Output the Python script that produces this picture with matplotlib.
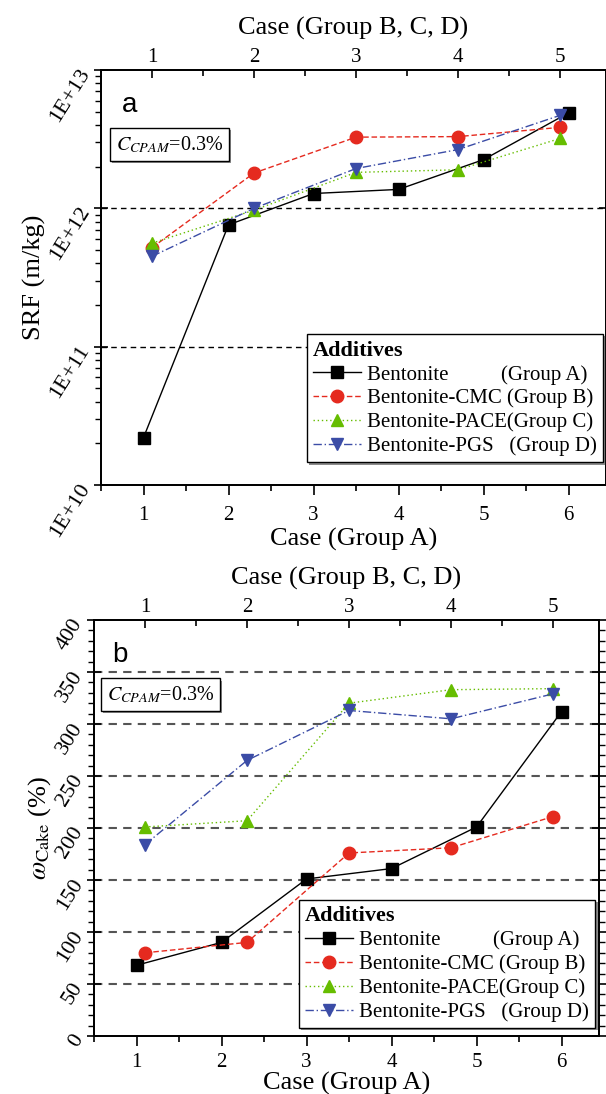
import matplotlib
matplotlib.use('Agg')
import matplotlib.pyplot as plt
import matplotlib.patheffects as pe
from matplotlib.ticker import FixedLocator, MultipleLocator, LogLocator, NullFormatter

plt.rcParams['font.family'] = ['Liberation Serif', 'DejaVu Serif']
plt.rcParams['mathtext.fontset'] = 'stix'

# x positions
case_a = [1, 2, 3, 4, 5, 6]
case_bcd = [1.1, 2.3, 3.5, 4.7, 5.9]
case_bcd_labels = ['1', '2', '3', '4', '5']
case_bcd_minor = [1.7, 2.9, 4.1, 5.3]

# panel a: SRF (m/kg)
srf_bent = [2.2e10, 7.6e11, 1.28e12, 1.37e12, 2.25e12, 4.9e12]
srf_cmc = [5.2e11, 1.8e12, 3.27e12, 3.3e12, 3.85e12]
srf_pace = [5.6e11, 9.7e11, 1.82e12, 1.9e12, 3.2e12]
srf_pgs = [4.5e11, 1.0e12, 1.94e12, 2.66e12, 4.7e12]

# panel b: cake water content (%)
w_bent = [68, 90, 151, 161, 201, 312]
w_cmc = [80, 90, 176, 181, 211]
w_pace = [201, 207, 320, 333, 334]
w_pgs = [184, 265, 313, 305, 329]

labels = ['Bentonite          (Group A)',
          'Bentonite-CMC (Group B)',
          'Bentonite-PACE(Group C)',
          'Bentonite-PGS   (Group D)']
colors = ['black', '#e52a1f', '#66bd00', '#3b4ca6']
markers = ['s', 'o', '^', 'v']
styles = ['-', (0, (4, 2)), (0, (1, 2)), (0, (6, 2, 1, 2))]


def draw(ax, series, tickpad, xlabelpad):
    xs = [case_a, case_bcd, case_bcd, case_bcd]
    for i in range(4):
        ax.plot(xs[i], series[i], color=colors[i], marker=markers[i], markersize=9,
                linestyle=styles[i], linewidth=1, label=labels[i], zorder=3)
    ax.set_xlim(0.5, 6.44)
    ax.set_xticks(case_a)
    ax.xaxis.set_minor_locator(MultipleLocator(0.5))
    ax.tick_params(axis='x', which='major', direction='out', length=7, width=1.2, labelsize=15, pad=tickpad)
    ax.tick_params(axis='x', which='minor', direction='out', length=4, width=1.2)
    ax.tick_params(axis='y', which='major', direction='inout', length=10, width=1.2, right=True,
                   labelsize=16, pad=6)
    ax.tick_params(axis='y', which='minor', direction='out', length=4, width=1, right=True)
    for s in ax.spines.values():
        s.set_linewidth(1.3)
    ax.set_xlabel('Case (Group A)', fontsize=19, labelpad=xlabelpad)

    top = ax.twiny()
    top.set_xlim(ax.get_xlim())
    top.xaxis.set_major_locator(FixedLocator(case_bcd))
    top.set_xticklabels(case_bcd_labels)
    top.xaxis.set_minor_locator(FixedLocator(case_bcd_minor))
    top.tick_params(axis='x', which='major', direction='in', length=6, width=1.2, labelsize=15, pad=2)
    top.tick_params(axis='x', which='minor', direction='in', length=4, width=1.2)
    top.set_xlabel('Case (Group B, C, D)', fontsize=19, labelpad=10)
    for s in top.spines.values():
        s.set_linewidth(1.3)

    leg = ax.legend(title='Additives', loc='upper right', fontsize=15, frameon=True,
                    fancybox=False, edgecolor='black', framealpha=1,
                    handlelength=2.3, handletextpad=0.3, labelspacing=0.2,
                    borderpad=0.3, borderaxespad=0, alignment='left',
                    title_fontproperties={'weight': 'bold', 'size': 16})
    leg.get_frame().set_linewidth(1)
    leg.get_frame().set_path_effects([pe.withSimplePatchShadow(offset=(1.5, -1.5),
                                                               shadow_rgbFace='0.55', alpha=1)])

    for t in ax.get_yticklabels():
        t.set_rotation(58)
        t.set_rotation_mode('anchor')
        t.set_ha('right')
        t.set_va('center')


def note(ax, x):
    txt = ax.text(x, 0.845, r'$C_{CPAM}$=0.3%', transform=ax.transAxes, fontsize=14.5,
                  ha='left', va='top',
                  bbox=dict(boxstyle='square,pad=0.3', fc='white', ec='black', lw=1))
    txt.get_bbox_patch().set_path_effects([pe.withSimplePatchShadow(offset=(1.5, -1.5),
                                                                    shadow_rgbFace='0.55', alpha=1)])


fig = plt.figure(figsize=(6.06, 10.94), dpi=100)

# panel a
ax1 = fig.add_axes([101 / 606, 1 - 485 / 1094, 505 / 606, 415 / 1094])
ax1.set_yscale('log')
ax1.set_ylim(1e10, 1e13)
ax1.set_yticks([1e10, 1e11, 1e12, 1e13])
ax1.set_yticklabels(['1E+10', '1E+11', '1E+12', '1E+13'])
ax1.yaxis.set_minor_locator(LogLocator(base=10, subs=range(2, 10)))
ax1.yaxis.set_minor_formatter(NullFormatter())
draw(ax1, [srf_bent, srf_cmc, srf_pace, srf_pgs], 8, 2)
for yv in [1e11, 1e12]:
    ax1.axhline(yv, color='black', linestyle=(0, (4, 3)), linewidth=1, zorder=1)
ax1.set_ylabel('SRF (m/kg)', fontsize=19, labelpad=0)
ax1.legend_.set_bbox_to_anchor((0.995, 0.363))
note(ax1, 0.03)
ax1.text(0.042, 0.899, 'a', transform=ax1.transAxes, fontsize=20,
         family='Liberation Sans', ha='left', va='baseline')

# panel b
ax2 = fig.add_axes([94 / 606, 1 - 1036 / 1094, 505 / 606, 416 / 1094])
ax2.set_ylim(0, 400)
ax2.set_yticks(range(0, 401, 50))
ax2.yaxis.set_minor_locator(MultipleLocator(10))
draw(ax2, [w_bent, w_cmc, w_pace, w_pgs], 5, 0)
for yv in range(50, 351, 50):
    ax2.axhline(yv, color='#555555', linestyle=(0, (4, 3)), linewidth=1.5, zorder=1)
ax2.set_ylabel(r'$\omega_{\mathrm{Cake}}$ (%)', fontsize=19, labelpad=0)
ax2.legend_.set_bbox_to_anchor((0.993, 0.327))
note(ax2, 0.025)
ax2.text(0.036, 0.899, 'b', transform=ax2.transAxes, fontsize=20,
         family='Liberation Sans', ha='left', va='baseline')

fig.savefig('out.png', dpi=100)
